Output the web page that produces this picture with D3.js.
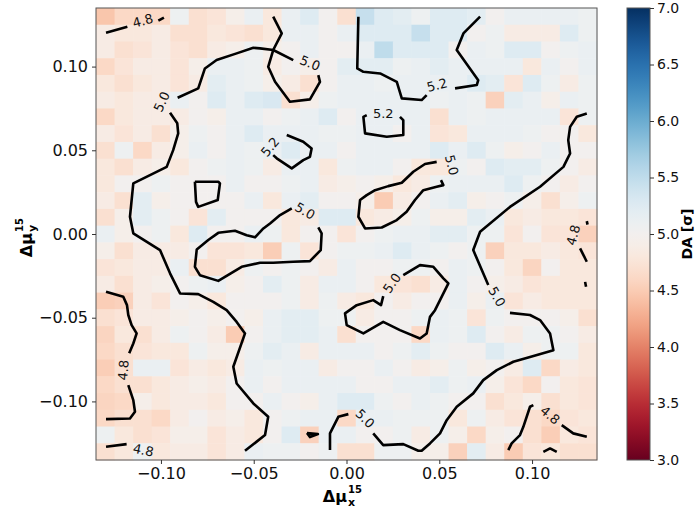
<!DOCTYPE html>
<html>
<head>
<meta charset="utf-8">
<script src="https://cdn.jsdelivr.net/npm/d3@7"></script>
<style>
  body { margin: 0; background: #fff; }
  svg { font-family: "DejaVu Sans", sans-serif; }
</style>
</head>
<body>
<div id="chart"></div>
<script>
// cell centres
const muX = [-0.13, -0.12, -0.11, -0.10, -0.09, -0.08, -0.07, -0.06, -0.05, -0.04, -0.03, -0.02, -0.01, 0.00,
    0.01, 0.02, 0.03, 0.04, 0.05, 0.06, 0.07, 0.08, 0.09, 0.10, 0.11, 0.12, 0.13];
const muY = [0.13, 0.12, 0.11, 0.10, 0.09, 0.08, 0.07, 0.06, 0.05, 0.04, 0.03, 0.02, 0.01, 0.00,
    -0.01, -0.02, -0.03, -0.04, -0.05, -0.06, -0.07, -0.08, -0.09, -0.10, -0.11, -0.12, -0.13];

// DA values, one row per muY (top to bottom)
const daGrid = [
  [4.45,4.62,4.62,4.62,5.07,4.70,4.75,4.93,5.12,4.80,5.12,5.25,5.00,4.70,5.45,5.25,5.20,5.07,5.25,5.25,5.20,5.00,5.12,5.12,5.12,5.12,5.07],
  [4.87,4.80,4.80,4.87,4.70,4.70,4.80,4.75,4.70,4.80,5.12,5.12,5.00,5.12,5.25,5.25,5.25,5.45,5.25,5.25,5.00,5.07,4.87,4.87,4.87,5.25,5.07],
  [4.87,4.70,4.75,4.87,4.75,4.70,4.87,4.93,5.07,4.93,5.00,5.12,5.00,5.00,5.12,5.50,5.25,5.25,5.25,5.00,5.12,5.07,5.25,5.25,5.00,5.07,5.12],
  [4.62,4.75,4.87,4.87,4.75,4.93,5.12,5.12,5.07,4.87,5.00,4.93,5.00,5.20,5.20,5.20,5.07,5.12,5.20,5.12,5.12,5.12,5.12,4.80,5.12,5.00,5.12],
  [4.80,4.70,4.80,4.87,4.75,4.87,5.20,5.12,5.07,4.93,4.87,4.70,5.00,5.12,5.12,5.07,5.12,5.12,5.12,5.12,5.25,5.20,4.75,5.25,5.07,4.87,5.07],
  [4.87,4.80,4.87,4.87,5.12,5.00,5.25,5.12,5.25,5.30,4.70,4.93,5.07,5.12,5.12,5.12,5.12,5.12,5.07,5.12,5.07,4.55,5.20,5.12,4.93,5.12,5.07],
  [4.62,4.80,4.87,4.87,4.87,5.00,4.93,5.12,5.12,5.00,5.07,5.12,5.25,5.00,5.12,5.12,5.12,5.12,4.70,5.12,5.07,5.12,5.12,5.12,5.12,4.75,5.07],
  [4.87,4.75,4.87,4.70,4.93,5.07,5.00,5.12,5.25,5.12,5.12,5.12,5.07,5.07,5.12,5.12,5.00,5.12,4.75,4.80,5.12,5.12,5.12,5.07,5.00,5.00,4.80],
  [4.70,5.07,4.62,4.87,4.93,5.12,5.00,5.12,5.07,5.12,5.25,5.12,5.12,5.00,5.12,5.12,5.12,5.12,5.25,5.12,5.25,5.07,4.93,5.00,5.12,5.00,5.00],
  [4.80,4.70,4.87,4.93,4.80,5.00,5.07,5.12,5.07,4.87,5.12,5.12,4.80,5.07,5.12,5.12,5.00,4.80,4.80,5.07,5.00,5.25,5.20,5.20,5.07,5.00,4.87],
  [4.80,5.00,5.00,5.07,5.00,5.00,5.00,5.12,5.00,5.00,5.07,5.12,4.87,4.93,5.00,4.93,4.80,4.87,5.07,5.12,5.12,5.12,5.25,5.07,5.00,4.87,5.00],
  [4.87,4.70,5.20,4.93,5.00,5.00,5.00,5.00,5.12,4.80,5.12,5.20,5.00,5.00,4.93,4.50,4.87,5.00,5.12,5.20,4.93,5.00,5.07,4.93,4.70,4.93,5.07],
  [4.70,4.93,5.20,5.07,5.00,4.75,5.20,5.00,5.00,5.00,4.80,4.87,5.25,5.25,4.80,4.87,4.93,5.07,4.93,4.93,5.20,5.12,4.80,4.87,4.80,4.80,4.75],
  [5.12,4.93,5.00,5.07,4.80,5.25,5.00,5.00,5.12,5.07,4.80,5.00,5.00,4.75,5.00,5.07,5.12,5.12,5.20,5.20,5.07,5.07,4.75,5.00,4.75,4.75,4.55],
  [4.93,4.70,4.87,4.87,4.87,5.00,4.75,4.75,4.80,4.52,5.07,4.75,5.00,5.07,5.07,5.12,5.25,5.12,5.07,5.00,5.07,4.55,4.80,4.80,4.87,4.80,4.75],
  [4.75,4.80,4.87,4.87,5.12,4.70,4.70,4.87,5.07,5.00,5.07,5.00,4.87,5.12,5.00,5.00,5.07,5.07,5.00,5.12,5.07,5.00,4.80,4.58,5.00,4.80,4.80],
  [4.87,4.70,4.87,4.93,5.00,5.07,5.12,4.93,5.00,5.20,5.07,4.87,5.12,5.12,5.00,4.80,4.75,4.70,4.87,5.12,5.00,4.93,4.87,4.75,4.80,4.80,4.80],
  [4.52,4.55,4.87,4.75,5.00,4.93,4.80,5.00,5.00,5.00,5.07,4.87,5.07,4.87,4.80,5.00,4.87,5.00,5.00,5.12,4.93,5.12,4.75,4.87,4.80,4.80,4.80],
  [4.70,4.75,4.87,4.87,4.93,5.00,4.93,5.00,4.93,5.12,5.20,5.20,5.07,5.07,4.87,5.00,5.00,5.07,5.12,5.07,4.75,5.07,5.00,5.00,5.00,4.93,4.70],
  [4.58,4.80,4.70,4.87,5.07,5.00,4.87,4.50,5.00,5.12,5.20,5.20,5.12,4.70,5.00,5.00,5.00,4.62,5.12,5.07,5.25,5.00,4.87,5.07,5.07,5.00,4.87],
  [4.62,4.70,4.75,4.80,4.80,5.07,4.93,4.93,5.07,5.20,5.12,4.87,5.12,5.12,5.12,5.00,5.07,5.20,5.07,5.00,5.00,5.25,5.12,4.93,5.07,5.07,4.80],
  [4.52,4.70,5.12,5.12,4.75,4.87,4.80,4.87,5.12,5.07,5.12,5.12,4.87,5.00,5.00,5.12,5.00,4.87,4.93,5.07,4.93,5.00,4.87,5.25,4.62,4.87,4.80],
  [4.62,4.70,4.70,4.80,4.87,4.93,4.87,5.00,5.12,5.00,5.12,5.12,5.12,5.12,5.00,5.00,5.12,5.12,5.20,5.07,5.12,4.93,4.75,4.62,5.00,4.80,4.75],
  [4.58,4.62,4.93,4.80,4.87,4.87,4.80,5.00,5.00,5.12,5.00,4.93,5.12,5.25,5.25,5.07,5.00,5.12,5.07,5.00,5.00,4.70,4.80,4.93,4.70,4.80,4.75],
  [4.62,4.70,4.70,4.62,4.87,5.00,4.87,4.93,4.80,5.00,5.07,5.12,5.12,4.62,5.12,5.12,5.07,5.07,5.07,4.80,5.07,4.87,4.75,4.70,4.62,4.75,4.80],
  [5.07,4.80,4.70,4.75,4.93,4.93,4.75,4.87,4.80,5.00,5.25,4.55,5.12,5.12,5.00,5.00,5.07,4.87,5.07,4.93,4.62,4.93,5.00,4.70,4.52,4.80,4.75],
  [4.70,4.80,5.07,4.80,4.87,4.87,4.75,4.87,5.12,5.07,5.07,5.00,5.07,4.70,4.70,5.07,5.07,4.93,4.93,4.55,5.20,4.87,4.50,4.75,4.80,4.70,4.70]
];

const axisTicks = [-0.10, -0.05, 0.00, 0.05, 0.10];
const cbarTicks = [3.0, 3.5, 4.0, 4.5, 5.0, 5.5, 6.0, 6.5, 7.0];

// contour lines, [muX, muY]
const c50West = [[-0.0910,0.0814],[-0.0799,0.0870],[-0.0763,0.0989],[-0.0700,0.1039],[-0.0592,0.1079],
    [-0.0502,0.1112],[-0.0466,0.1109],[-0.0395,0.1099],[-0.0287,0.1039]];
const c50Hook = [[-0.0152,0.0949],[-0.0143,0.0909],[-0.0197,0.0804],[-0.0305,0.0790],[-0.0385,0.0909],
    [-0.0422,0.0999],[-0.0395,0.1099],[-0.0349,0.1198],[-0.0395,0.1298]];
const c50Down = [[-0.0951,0.0724],[-0.0912,0.0661],[-0.0907,0.0601],[-0.0934,0.0501],[-0.0969,0.0401],
    [-0.1149,0.0302],[-0.1167,0.0103],[-0.1149,0.0004],[-0.1005,-0.0096],[-0.0951,-0.0235],[-0.0897,-0.0355],
    [-0.0799,-0.0359],[-0.0718,-0.0405],[-0.0646,-0.0455],[-0.0592,-0.0525],[-0.0547,-0.0594],[-0.0610,-0.0793],
    [-0.0592,-0.0893],[-0.0502,-0.1012],[-0.0422,-0.1092],[-0.0439,-0.1201],[-0.0547,-0.1295]];
const c50Box = [[-0.0817,0.0312],[-0.0691,0.0312],[-0.0682,0.0302],[-0.0694,0.0203],[-0.0799,0.0162],
    [-0.0811,0.0192],[-0.0817,0.0312]];
const c50Loop = [[-0.0152,0.0039],[-0.0134,0.0004],[-0.0139,-0.0096],[-0.0197,-0.0162],[-0.0287,-0.0166],
    [-0.0395,-0.0172],[-0.0466,-0.0172],[-0.0565,-0.0196],[-0.0691,-0.0280],[-0.0790,-0.0246],[-0.0817,-0.0196],
    [-0.0807,-0.0092],[-0.0745,-0.0036],[-0.0691,0.0007],[-0.0601,0.0019],[-0.0538,-0.0007],[-0.0493,-0.0020],
    [-0.0448,0.0033],[-0.0412,0.0063],[-0.0358,0.0113],[-0.0295,0.0153]];
const c50Bean = [[0.0486,0.0431],[0.0423,0.0418],[0.0360,0.0372],[0.0298,0.0306],[0.0225,0.0286],
    [0.0154,0.0262],[0.0109,0.0232],[0.0073,0.0203],[0.0064,0.0103],[0.0100,0.0033],[0.0190,0.0039],
    [0.0271,0.0083],[0.0324,0.0133],[0.0369,0.0203],[0.0414,0.0262],[0.0486,0.0282],[0.0522,0.0292],[0.0509,0.0322]];
const c50EastA = [[0.1295,0.0720],[0.1241,0.0700],[0.1205,0.0640],[0.1195,0.0561],[0.1205,0.0481],
    [0.1187,0.0441],[0.1169,0.0401],[0.1043,0.0282],[0.0881,0.0162],[0.0720,0.0013],[0.0683,-0.0096],[0.0764,-0.0305]];
const c50EastB = [[0.0881,-0.0471],[0.0989,-0.0484],[0.1043,-0.0514],[0.1097,-0.0594],[0.1115,-0.0694],
    [0.0989,-0.0734],[0.0899,-0.0763],[0.0810,-0.0813],[0.0737,-0.0873],[0.0683,-0.0952],[0.0594,-0.1032],
    [0.0540,-0.1112],[0.0504,-0.1191],[0.0450,-0.1251],[0.0405,-0.1295],[0.0387,-0.1295],[0.0306,-0.1255],
    [0.0198,-0.1261],[0.0144,-0.1191]];
const c50EastC = [[0.0010,-0.1076],[-0.0044,-0.1092],[-0.0089,-0.1191],[-0.0089,-0.1291]];
const c50Dot = [[-0.0213,-0.1189],[-0.0154,-0.1195],[-0.0197,-0.1213],[-0.0213,-0.1189]];
const c50Heart = [[0.0306,-0.0246],[0.0396,-0.0186],[0.0468,-0.0196],[0.0522,-0.0265],[0.0549,-0.0295],
    [0.0504,-0.0395],[0.0477,-0.0455],[0.0450,-0.0495],[0.0432,-0.0594],[0.0396,-0.0624],[0.0288,-0.0574],
    [0.0198,-0.0525],[0.0091,-0.0594],[0.0001,-0.0544],[-0.0008,-0.0474],[0.0055,-0.0425],[0.0144,-0.0395],
    [0.0186,-0.0425],[0.0198,-0.0371]];
const c52Top = [[0.0064,0.1298],[0.0058,0.0989],[0.0091,0.0969],[0.0181,0.0959],[0.0271,0.0909],
    [0.0298,0.0810],[0.0405,0.0800],[0.0432,0.0830]];
const c52TopR = [[0.0585,0.0870],[0.0702,0.0890],[0.0710,0.0919],[0.0594,0.1099],[0.0630,0.1198],[0.0720,0.1298]];
const c52Cup = [[0.0109,0.0710],[0.0091,0.0700],[0.0100,0.0601],[0.0217,0.0581],[0.0306,0.0591],
    [0.0306,0.0680],[0.0288,0.0700]];
const c52Left = [[-0.0322,0.0591],[-0.0233,0.0551],[-0.0188,0.0511],[-0.0197,0.0461],[-0.0233,0.0441],
    [-0.0295,0.0392],[-0.0376,0.0452],[-0.0395,0.0471]];
const c48TopA = [[-0.1296,0.1202],[-0.1181,0.1238]];
const c48TopB = [[-0.1014,0.1274],[-0.0984,0.1292]];
const c48WestA = [[-0.1296,-0.0345],[-0.1203,-0.0375],[-0.1183,-0.0425],[-0.1176,-0.0484],[-0.1158,-0.0544],
    [-0.1131,-0.0594],[-0.1149,-0.0654],[-0.1171,-0.0713]];
const c48WestB = [[-0.1176,-0.0903],[-0.1149,-0.0992],[-0.1140,-0.1062],[-0.1167,-0.1102],[-0.1296,-0.1106]];
const c48Low = [[-0.1296,-0.1271],[-0.1185,-0.1255]];
const c48EastA = [[0.1295,0.0077],[0.1299,0.0056]];
const c48EastB = [[0.1259,-0.0086],[0.1295,-0.0166]];
const c48EastC = [[0.1286,-0.0286],[0.1291,-0.0315]];
const c48CornerA = [[0.1007,-0.1022],[0.0989,-0.1032],[0.0953,-0.1152],[0.0935,-0.1201],[0.0890,-0.1251],[0.0872,-0.1291]];
const c48CornerB = [[0.1160,-0.1142],[0.1222,-0.1191],[0.1295,-0.1211]];
const c48Cap = [[0.1061,-0.1301],[0.1097,-0.1281],[0.1133,-0.1301]];

const contourLines = [c50West, c50Hook, c50Down, c50Box, c50Loop, c50Bean, c50EastA, c50EastB, c50EastC,
    c50Dot, c50Heart, c52Top, c52TopR, c52Cup, c52Left, c48TopA, c48TopB, c48WestA, c48WestB, c48Low,
    c48EastA, c48EastB, c48EastC, c48CornerA, c48CornerB, c48Cap];

// inline contour labels: text, x, y, angle
const contourLabels = [
    ["4.8", -0.1098, 0.1274, -15], ["5.0", -0.0996, 0.0790, -65], ["5.0", -0.0197, 0.1021, 22],
    ["5.2", 0.0488, 0.0890, -15], ["5.2", 0.0198, 0.0720, 0], ["5.2", -0.0412, 0.0521, -50],
    ["5.0", -0.0224, 0.0137, 30], ["5.0", 0.0567, 0.0412, 75], ["4.8", 0.1222, -0.0007, -75],
    ["5.0", 0.0245, -0.0293, -55], ["5.0", 0.0810, -0.0375, 60], ["4.8", -0.1203, -0.0813, -85],
    ["5.0", 0.0100, -0.1102, 45], ["4.8", 0.1097, -0.1082, 40], ["4.8", -0.1095, -0.1291, 12]
];

const W = 695, H = 508;
const plot = { left: 96, top: 8, width: 501, height: 452 };
const cbar = { left: 627, width: 23 };

const svg = d3.select("#chart").append("svg")
    .attr("width", W).attr("height", H);

const x = d3.scaleLinear().domain([-0.135, 0.135]).range([plot.left, plot.left + plot.width]);
const y = d3.scaleLinear().domain([-0.135, 0.135]).range([plot.top + plot.height, plot.top]);
const color = d3.scaleSequential(d3.interpolateRdBu).domain([3, 7]);

const half = 0.005;
const cells = [];
daGrid.forEach((row, j) => row.forEach((v, i) => cells.push({ x: muX[i], y: muY[j], v })));

svg.append("g")
    .selectAll("rect")
    .data(cells)
    .enter()
    .append("rect")
        .attr("x", d => x(d.x - half))
        .attr("y", d => y(d.y + half))
        .attr("width", d => x(d.x + half) - x(d.x - half) + 0.5)
        .attr("height", d => y(d.y - half) - y(d.y + half) + 0.5)
        .attr("fill", d => color(d.v));

// contours
const line = d3.line().x(d => x(d[0])).y(d => y(d[1]));
svg.append("g")
    .selectAll("path")
    .data(contourLines)
    .enter()
    .append("path")
        .attr("d", line)
        .attr("fill", "none")
        .attr("stroke", "#000")
        .attr("stroke-width", 2.6)
        .attr("stroke-linejoin", "round");

svg.append("g")
    .selectAll("text")
    .data(contourLabels)
    .enter()
    .append("text")
        .attr("transform", d => `translate(${x(d[1])},${y(d[2])}) rotate(${d[3]})`)
        .attr("text-anchor", "middle")
        .attr("dy", "0.35em")
        .attr("font-size", 13)
        .attr("fill", "#111")
        .text(d => d[0]);

// frame
svg.append("rect")
    .attr("x", plot.left).attr("y", plot.top)
    .attr("width", plot.width).attr("height", plot.height)
    .attr("fill", "none").attr("stroke", "#555").attr("stroke-width", 1);

const fmt = d3.format(".2f");
const xAxis = svg.append("g")
    .attr("transform", `translate(0,${plot.top + plot.height})`)
    .call(d3.axisBottom(x).tickValues(axisTicks).tickFormat(fmt).tickSize(4).tickPadding(4));
const yAxis = svg.append("g")
    .attr("transform", `translate(${plot.left},0)`)
    .call(d3.axisLeft(y).tickValues(axisTicks).tickFormat(fmt).tickSize(4).tickPadding(4));
[xAxis, yAxis].forEach(a => {
    a.select(".domain").remove();
    a.selectAll("line").attr("stroke", "#333");
    a.selectAll("text").attr("font-size", 16).attr("fill", "#111")
        .attr("font-family", "DejaVu Sans");
});

// axis titles: Δμ with stacked 15 / x
function muLabel(g, sub) {
    g.append("text").attr("x", 6).attr("y", 0).attr("text-anchor", "end")
        .attr("font-size", 16).attr("font-weight", "bold").text("Δμ");
    g.append("text").attr("x", 7).attr("y", -9)
        .attr("font-size", 10).attr("font-weight", "bold").text("15");
    g.append("text").attr("x", 7).attr("y", 4)
        .attr("font-size", 11).attr("font-weight", "bold").text(sub);
}
muLabel(svg.append("g").attr("transform", "translate(341,502)"), "x");
muLabel(svg.append("g").attr("transform", "translate(32,239) rotate(-90)"), "y");

// colorbar
const cy = d3.scaleLinear().domain([3, 7]).range([plot.top + plot.height, plot.top]);
const grad = svg.append("defs").append("linearGradient")
    .attr("id", "cbgrad").attr("x1", 0).attr("y1", 1).attr("x2", 0).attr("y2", 0);
grad.selectAll("stop")
    .data(d3.range(0, 1.0001, 0.025))
    .enter()
    .append("stop")
        .attr("offset", d => d)
        .attr("stop-color", d => d3.interpolateRdBu(d));
svg.append("rect")
    .attr("x", cbar.left).attr("y", plot.top)
    .attr("width", cbar.width).attr("height", plot.height)
    .attr("fill", "url(#cbgrad)")
    .attr("stroke", "#555").attr("stroke-width", 1);
const cAxis = svg.append("g")
    .attr("transform", `translate(${cbar.left + cbar.width},0)`)
    .call(d3.axisRight(cy).tickValues(cbarTicks).tickFormat(d3.format(".1f")).tickSize(4).tickPadding(3));
cAxis.select(".domain").remove();
cAxis.selectAll("line").attr("stroke", "#333");
cAxis.selectAll("text").attr("font-size", 14).attr("fill", "#111").attr("font-family", "DejaVu Sans");

svg.append("text")
    .attr("transform", "translate(692,234) rotate(-90)")
    .attr("text-anchor", "middle")
    .attr("font-size", 14).attr("font-weight", "bold")
    .text("DA [σ]");
</script>
</body>
</html>
